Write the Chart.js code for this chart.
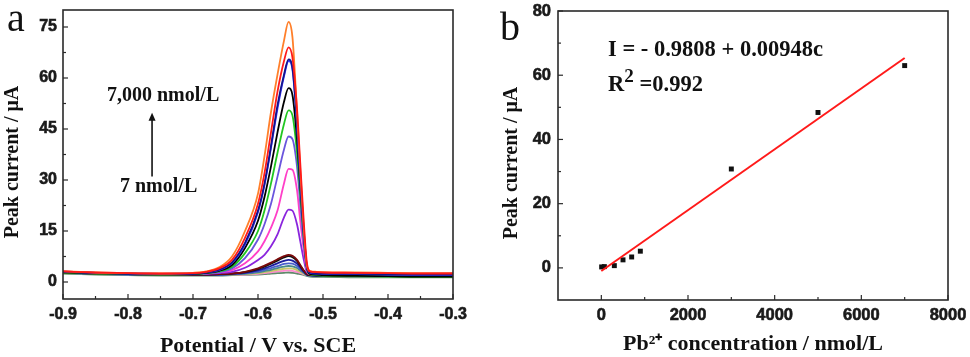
<!DOCTYPE html>
<html><head><meta charset="utf-8">
<script src="https://cdn.jsdelivr.net/npm/chart.js@4.4.1/dist/chart.umd.min.js"></script>
<style>
body{margin:0;background:#fff;width:970px;height:357px;overflow:hidden;position:relative}
canvas{position:absolute;top:0}
#ca{left:0}#cb{left:485px}
.t{position:absolute;font-family:'Liberation Serif',serif;font-weight:bold;white-space:nowrap;color:#111}
.lbl{position:absolute;font-family:'Liberation Serif',serif;font-size:40px;line-height:40px;color:#111}
</style></head><body>
<canvas id="ca" width="485" height="357"></canvas>
<canvas id="cb" width="485" height="357"></canvas>
<div class="lbl" style="left:7px;top:-2px">a</div>
<div class="lbl" style="left:500px;top:7px">b</div>
<div class="t" style="left:107px;top:84px;font-size:20px;line-height:20px">7,000 nmol/L</div>
<div class="t" style="left:120px;top:175px;font-size:20px;line-height:20px">7 nmol/L</div>
<div class="t" style="left:608px;top:38px;font-size:22.5px;line-height:22.5px">I = - 0.9808 + 0.00948c</div>
<div class="t" style="left:608px;top:73px;font-size:22.5px;line-height:22.5px">R<span style="font-size:0.85em;position:relative;top:-0.45em">2</span> =0.992</div>
<script>
// ---------- Panel a: DPV curves ----------
const potential = [-0.90,-0.85,-0.80,-0.75,-0.70,-0.68,-0.66,-0.64,-0.62,-0.60,-0.59,-0.58,-0.57,-0.56,-0.553,-0.547,-0.54,-0.535,-0.53,-0.525,-0.52,-0.51,-0.50,-0.45,-0.40,-0.35,-0.30];
const curveRed      = [3.1,2.8,2.6,2.5,2.6,3.0,4.0,6.5,13,23,32,44,56,65,69,66,51,35,19,6,3.1,2.9,2.8,2.7,2.6,2.5,2.5];
const curveOrange   = [3.2,2.8,2.6,2.5,2.7,3.1,4.3,7.5,15,26,37,50,61,71,76.5,72,50,33,17,5,3.2,3.0,2.9,2.8,2.7,2.6,2.6];
const curveNavy     = [3.0,2.7,2.5,2.4,2.5,2.8,3.6,5.8,11.5,21,29,40,52,61,65.5,63,47,31,16,5,2.8,2.6,2.5,2.4,2.3,2.2,2.2];
const curveBlue     = [3.0,2.7,2.5,2.4,2.5,2.8,3.5,5.6,11,20.5,28.5,39.5,51,60.5,65,62.5,46,30,15,4.5,2.7,2.5,2.4,2.3,2.2,2.1,2.1];
const curveBlack    = [2.9,2.6,2.4,2.3,2.4,2.7,3.3,5.0,10,18,25,34,44,53,57,55,42,28,15,4.5,2.4,2.2,2.0,1.8,1.7,1.6,1.6];
const curveGreen    = [2.8,2.5,2.3,2.2,2.3,2.6,3.1,4.5,8.5,15,21,29,38,46.5,50.5,49,38,26,14,4.3,2.3,2.0,1.9,1.7,1.6,1.5,1.5];
const curveSlate    = [3.0,2.6,2.4,2.3,2.3,2.5,2.9,4.0,7,12.5,17,23,31,39,42.8,42,34,23,12,4,2.4,2.2,2.1,2.0,2.0,2.0,2.0];
const curveMagenta  = [3.1,2.7,2.5,2.4,2.4,2.5,2.8,3.5,5.5,9,12,16,21,29,33.3,33,27,18,10,3.5,2.4,2.3,2.3,2.3,2.3,2.4,2.4];
const curveViolet   = [3.1,2.7,2.5,2.4,2.4,2.4,2.6,3.0,4.2,6.5,8,10.5,14,19,21.3,21,17,12,7,3,2.3,2.2,2.2,2.2,2.3,2.4,2.5];
const curveMaroon   = [2.8,2.5,2.3,2.2,2.2,2.2,2.3,2.5,3.0,4.0,4.8,5.7,6.7,7.6,8.0,7.7,6.5,5.0,3.5,2.4,2.1,2.0,2.0,1.9,1.9,1.8,1.8];
const curveBlack2   = [2.8,2.5,2.3,2.2,2.2,2.2,2.3,2.5,2.9,3.8,4.5,5.4,6.3,7.2,7.6,7.3,6.2,4.8,3.4,2.3,2.0,1.9,1.9,1.8,1.7,1.6,1.6];
const curveNavy2    = [2.8,2.5,2.3,2.2,2.2,2.2,2.2,2.4,2.7,3.4,4.0,4.7,5.5,6.2,6.5,6.3,5.4,4.3,3.1,2.2,2.0,1.9,1.9,1.8,1.8,1.7,1.7];
const curveBlue2    = [2.7,2.4,2.2,2.1,2.1,2.1,2.1,2.3,2.6,3.1,3.6,4.1,4.7,5.3,5.5,5.4,4.7,3.8,2.9,2.1,1.9,1.8,1.8,1.7,1.7,1.7,1.7];
const curveTeal     = [2.6,2.3,2.1,2.0,2.0,2.0,2.0,2.2,2.4,2.8,3.2,3.6,4.1,4.5,4.7,4.6,4.1,3.4,2.7,2.0,1.8,1.7,1.7,1.6,1.6,1.6,1.6];
const curveOlive    = [2.6,2.3,2.1,2.0,2.0,2.0,2.0,2.1,2.3,2.6,2.9,3.2,3.6,3.9,4.0,3.9,3.5,3.0,2.5,2.0,1.8,1.7,1.7,1.6,1.6,1.5,1.5];
const curvePink     = [2.7,2.4,2.2,2.1,2.1,2.1,2.1,2.1,2.2,2.4,2.6,2.8,3.1,3.3,3.4,3.3,3.0,2.7,2.3,2.0,1.9,1.9,1.9,1.9,1.9,1.9,1.9];
const curveGrey     = [2.5,2.2,2.0,1.9,1.9,1.9,1.9,2.0,2.1,2.2,2.3,2.5,2.6,2.7,2.8,2.7,2.5,2.3,2.1,1.8,1.6,1.5,1.5,1.4,1.4,1.4,1.4];
const curvesA = [
  [curveRed,'#ff1a1a'],[curveOrange,'#ff7f2a'],[curveNavy,'#14148a'],[curveBlue,'#3a3aff'],
  [curveBlack,'#000000'],[curveGreen,'#22c722'],[curveSlate,'#6a55dd'],[curveMagenta,'#ff3fc8'],
  [curveViolet,'#8a25dd'],[curveMaroon,'#7a0a0a'],[curveBlack2,'#111111'],[curveNavy2,'#1c1c9c'],
  [curveBlue2,'#4a60cc'],[curveTeal,'#4a8a8a'],[curveOlive,'#c8c86a'],[curvePink,'#ff8ad0'],[curveGrey,'#5f8a6a']
];
const xTicksA = [-0.9,-0.8,-0.7,-0.6,-0.5,-0.4,-0.3];
const xMinorA = [-0.85,-0.75,-0.65,-0.55,-0.45,-0.35];
const yTicksA = [0,15,30,45,60,75];
const yMinorA = [7.5,22.5,37.5,52.5,67.5];
const arrowA = {x:-0.763, from:31, to:49.8};

// ---------- Panel b: calibration ----------
const concB    = [7, 70, 300, 500, 700, 900, 3000, 5000, 7000];
const currentB = [0.3, 0.4, 0.7, 2.5, 3.4, 5.2, 30.8, 48.4, 63.0];
const fitX = [0, 7000];
const fitY = [-0.98, 65.38];
const xTicksB = [0,2000,4000,6000,8000];
const xMinorB = [1000,3000,5000,7000];
const yTicksB = [0,20,40,60,80];
const yMinorB = [10,30,50,70];

Chart.defaults.font.family = "'Liberation Sans', Arial, sans-serif";
Chart.defaults.font.weight = 'bold';
Chart.defaults.font.size = 16;
Chart.defaults.color = '#1a1a1a';

const frameTicks = {
  id:'frameTicks',
  afterDraw(chart, args, o){
    const ctx = chart.ctx, a = chart.chartArea, xs = chart.scales.x, ys = chart.scales.y;
    ctx.save();
    ctx.strokeStyle = '#2a2a2a';
    ctx.lineWidth = 1.6;
    ctx.strokeRect(a.left, a.top, a.right - a.left, a.bottom - a.top);
    ctx.lineWidth = 1.2;
    const seg = (x1,y1,x2,y2)=>{ctx.beginPath();ctx.moveTo(x1,y1);ctx.lineTo(x2,y2);ctx.stroke();};
    o.xMajor.forEach(v=>{const p=xs.getPixelForValue(v); seg(p,a.bottom,p,a.bottom-5);});
    o.xMinor.forEach(v=>{const p=xs.getPixelForValue(v); seg(p,a.bottom,p,a.bottom-3);});
    o.yMajor.forEach(v=>{const p=ys.getPixelForValue(v); seg(a.left,p,a.left+5,p);});
    o.yMinor.forEach(v=>{const p=ys.getPixelForValue(v); seg(a.left,p,a.left+3,p);});
    if (o.arrow){
      const ax = xs.getPixelForValue(o.arrow.x), y1 = ys.getPixelForValue(o.arrow.from), y2 = ys.getPixelForValue(o.arrow.to);
      ctx.strokeStyle='#111'; ctx.fillStyle='#111'; ctx.lineWidth=1.6;
      seg(ax,y1,ax,y2+6);
      ctx.beginPath(); ctx.moveTo(ax,y2); ctx.lineTo(ax-3.5,y2+8); ctx.lineTo(ax+3.5,y2+8); ctx.closePath(); ctx.fill();
    }
    ctx.restore();
  }
};

const tickFont = s => ({family:"'Liberation Sans', Arial, sans-serif", weight:'bold', size:s});
const titleFont = s => ({family:"'Liberation Serif', serif", weight:'bold', size:s, lineHeight:1});
const noPad = s => { s.paddingTop = 0; s.paddingBottom = 0; s.paddingLeft = 0; s.paddingRight = 0; };
const NB = '\u00a0\u00a0\u00a0';

new Chart(document.getElementById('ca'), {
  type:'line',
  data:{
    datasets: curvesA.map(([vals,col])=>({
      data: potential.map((p,i)=>({x:p, y:vals[i]})),
      borderColor: col, borderWidth: 1.8, pointRadius: 0, fill:false,
      cubicInterpolationMode:'monotone'
    }))
  },
  options:{
    responsive:false, animation:false, devicePixelRatio:1,
    layout:{padding:{left:0,right:32,top:10,bottom:0}},
    plugins:{legend:{display:false}, tooltip:{enabled:false},
      frameTicks:{xMajor:xTicksA,xMinor:xMinorA,yMajor:yTicksA,yMinor:yMinorA,arrow:arrowA}},
    scales:{
      x:{type:'linear', min:-0.9, max:-0.3,
        afterBuildTicks:s=>{s.ticks = xTicksA.map(v=>({value:v}));},
        afterFit:s=>{s.height = 58; noPad(s);},
        grid:{display:false, drawTicks:false}, border:{display:false},
        ticks:{padding:6, autoSkip:false, maxRotation:0, color:'#1a1a1a', textStrokeColor:'#1a1a1a', textStrokeWidth:0.6, font:tickFont(16), callback:v=>Number(v).toFixed(1)},
        title:{display:true, text:'Potential / V vs. SCE', color:'#111', font:titleFont(22), padding:{top:0,bottom:0}}
      },
      y:{type:'linear', min:-5, max:80,
        afterBuildTicks:s=>{s.ticks = yTicksA.map(v=>({value:v}));},
        afterFit:s=>{s.width = 63; noPad(s);},
        grid:{display:false, drawTicks:false}, border:{display:false},
        ticks:{padding:6, autoSkip:false, color:'#1a1a1a', textStrokeColor:'#1a1a1a', textStrokeWidth:0.6, font:tickFont(16)},
        title:{display:true, text:'Peak current / μA' + NB, color:'#111', font:titleFont(20), padding:{top:3,bottom:0}}
      }
    }
  },
  plugins:[frameTicks]
});

new Chart(document.getElementById('cb'), {
  type:'scatter',
  data:{
    datasets:[
      {data: fitX.map((x,i)=>({x, y:fitY[i]})), showLine:true, borderColor:'#ff1a1a', borderWidth:2, pointRadius:0},
      {data: concB.map((x,i)=>({x, y:currentB[i]})), pointStyle:'rect', pointRadius:3.5, backgroundColor:'#111', borderColor:'#111', borderWidth:0}
    ]
  },
  options:{
    responsive:false, animation:false, devicePixelRatio:1,
    layout:{padding:{left:0,right:22,top:11,bottom:0}},
    plugins:{legend:{display:false}, tooltip:{enabled:false},
      frameTicks:{xMajor:xTicksB,xMinor:xMinorB,yMajor:yTicksB,yMinor:yMinorB}},
    scales:{
      x:{type:'linear', min:-1000, max:8000,
        afterBuildTicks:s=>{s.ticks = xTicksB.map(v=>({value:v}));},
        afterFit:s=>{s.height = 57; noPad(s);},
        grid:{display:false, drawTicks:false}, border:{display:false},
        ticks:{padding:6, autoSkip:false, maxRotation:0, color:'#1a1a1a', textStrokeColor:'#1a1a1a', textStrokeWidth:0.6, font:tickFont(16.5), callback:v=>String(v)},
        title:{display:true, text:'Pb²⁺ concentration / nmol/L', color:'#111', font:titleFont(22), padding:{top:0,bottom:2}}
      },
      y:{type:'linear', min:-10, max:80,
        afterBuildTicks:s=>{s.ticks = yTicksB.map(v=>({value:v}));},
        afterFit:s=>{s.width = 73; noPad(s);},
        grid:{display:false, drawTicks:false}, border:{display:false},
        ticks:{padding:7, autoSkip:false, color:'#1a1a1a', textStrokeColor:'#1a1a1a', textStrokeWidth:0.6, font:tickFont(16.5)},
        title:{display:true, text:'Peak current / μA' + NB, color:'#111', font:titleFont(20), padding:{top:17,bottom:0}}
      }
    }
  },
  plugins:[frameTicks]
});
</script>
</body></html>
